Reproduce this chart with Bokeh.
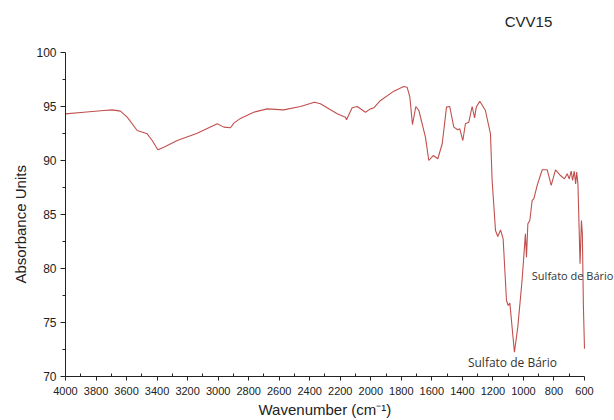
from bokeh.plotting import figure
from bokeh.models import Range1d, FixedTicker, Label, Title
from bokeh.embed import file_html
from bokeh.resources import INLINE

# FTIR spectrum of sample CVV15
wavenumber = [4000, 3880, 3749, 3694, 3640, 3596, 3530, 3465, 3432, 3395,
              3356, 3268, 3137, 3006, 2963, 2919, 2897, 2854, 2767, 2679,
              2570, 2461, 2369, 2330, 2220, 2166, 2159, 2122, 2089, 2035,
              2002, 1980, 1936, 1849, 1784, 1762, 1744, 1727, 1705, 1685,
              1642, 1620, 1591, 1561, 1532, 1504, 1483, 1456, 1430, 1417,
              1397, 1380, 1358, 1336, 1320, 1309, 1286, 1249, 1216, 1205,
              1183, 1168, 1150, 1133, 1111, 1100, 1089, 1059, 1037, 1009,
              987, 980, 971, 958, 943, 932, 910, 877, 844, 818,
              790, 757, 731, 713, 700, 687, 678, 667, 658, 651,
              643, 629, 620, 614, 607, 600]
absorbance = [94.32, 94.47, 94.63, 94.69, 94.57, 94.01, 92.78, 92.47, 91.85, 90.99,
              91.23, 91.85, 92.53, 93.40, 93.09, 93.03, 93.46, 93.90, 94.47, 94.78,
              94.69, 95.00, 95.40, 95.25, 94.32, 94.01, 93.77, 94.88, 95.00, 94.47,
              94.78, 94.88, 95.56, 96.42, 96.85, 96.79, 95.86, 93.33, 95.00, 94.63,
              92.16, 90.00, 90.46, 90.16, 91.55, 94.94, 95.00, 93.09, 92.84, 92.93,
              91.85, 93.40, 93.55, 95.00, 93.95, 94.94, 95.49, 94.63, 92.47, 88.15,
              83.52, 82.96, 83.58, 82.75, 77.04, 76.57, 76.79, 72.25, 74.57, 78.89,
              83.21, 81.05, 84.14, 84.44, 86.30, 86.45, 87.70, 89.14, 89.14, 87.69,
              89.14, 88.61, 88.30, 88.77, 88.30, 89.01, 88.15, 89.01, 87.84, 88.92,
              87.84, 80.43, 84.44, 83.21, 76.42, 72.56]

x_ticks = list(range(4000, 599, -200))
x_minor = list(range(3900, 600, -200))
y_ticks = [70, 75, 80, 85, 90, 95, 100]
y_minor = [72.5, 77.5, 82.5, 87.5, 92.5, 97.5]

# (text, wavenumber, absorbance, alignment, font size)
annotations = [
    ("Sulfato de Bário", 1072, 71.3, "center", "12px"),
    ("Sulfato de Bário", 945, 79.35, "left", "11px"),
]
sample_name = "CVV15"

INK = "#222222"

# the plotting area runs past the axes so the labels beside the curve have room
p = figure(width=614, height=420, output_backend="svg", toolbar_location=None,
           x_range=Range1d(4000, 403.4), y_range=Range1d(70, 104.815),
           min_border_left=65, min_border_right=0,
           min_border_top=0, min_border_bottom=44)
p.outline_line_color = None
p.xgrid.visible = False
p.ygrid.visible = False
p.background_fill_color = "white"
p.border_fill_color = "white"

p.line(wavenumber, absorbance, line_color="#c0504d", line_width=1.1)

ax = p.xaxis[0]
ax.ticker = FixedTicker(ticks=x_ticks, minor_ticks=x_minor)
ax.bounds = (600, 4000)
ax.major_label_text_font = "Liberation Sans"
ax.major_label_text_font_size = "11px"
ax.major_label_standoff = 6
ax.major_tick_out = 4
ax.major_tick_in = 0
ax.minor_tick_out = 0
ax.minor_tick_in = 3

ay = p.yaxis[0]
ay.ticker = FixedTicker(ticks=y_ticks, minor_ticks=y_minor)
ay.bounds = (70, 100)
ay.major_label_text_font = "Liberation Sans"
ay.major_label_text_font_size = "12px"
ay.major_label_standoff = 4
ay.major_tick_out = 5
ay.major_tick_in = 0
ay.minor_tick_out = 3
ay.minor_tick_in = 0

for a in (ax, ay):
    a.axis_line_color = INK
    a.major_tick_line_color = INK
    a.minor_tick_line_color = INK
    a.major_label_text_color = INK

# axis titles, placed along their axes by offset
p.add_layout(Title(text="Wavenumber (cm⁻¹)", align="left", offset=193,
                   text_font="Liberation Sans", text_font_style="normal",
                   text_font_size="15px", text_color=INK, standoff=2), "below")
p.add_layout(Title(text="Absorbance Units", align="left", offset=93,
                   text_font="Liberation Sans", text_font_style="normal",
                   text_font_size="15px", text_color=INK, standoff=10), "left")

for text, xv, yv, align, size in annotations:
    p.add_layout(Label(x=xv, y=yv, text=text, text_align=align,
                       text_baseline="middle", text_font="Open Sans",
                       text_font_size=size, text_color="#333333"))

p.add_layout(Label(x=967, y=102.87, text=sample_name, text_align="center",
                   text_baseline="middle", text_font="Liberation Sans",
                   text_font_size="15px", text_color=INK))

open("out.html", "w").write(file_html(p, INLINE))
